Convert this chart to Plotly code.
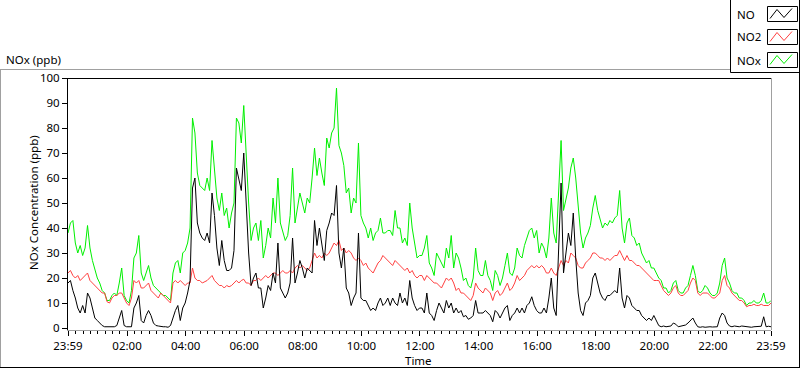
import pandas as pd
import plotly.graph_objects as go

# ---------------- data (5-minute samples, 23:59 -> 23:59) ----------------
start_time = "2000-01-01 23:59"
n_samples = 289
times = pd.date_range(start_time, periods=n_samples, freq="5min")

no_ppb = [
    18, 19, 15, 12, 8, 6, 9, 6, 14, 12, 8, 4, 3, 2, 1, 0.5, 0.5, 0.5, 0.5, 0.5, 1, 4, 7, 1, 0.5,
    0.5, 0.5, 8, 10, 13, 3, 2, 5, 7, 5, 2, 1, 0.8, 0.5, 0.5, 0.5, 0.3, 1, 4, 7, 9, 3, 8, 10,
    14, 19, 56, 60, 42, 38, 36, 35, 38, 34, 54, 45, 32, 25, 35, 27, 23, 23, 24, 31, 64, 60, 55, 70,
    50, 30, 17, 20, 22, 16, 16, 8, 12, 17, 15, 22, 18, 34, 16, 14, 12, 14, 18, 36, 18, 22, 27, 24,
    20, 24, 23, 22, 43, 33, 40, 34, 27, 39, 42, 46, 45, 57, 30, 24, 32, 16, 14, 9, 12, 14, 38, 12,
    11, 11, 9, 7, 8, 7, 10, 12, 9, 10, 12, 9, 12, 10, 9, 14, 10, 12, 9, 19, 12, 9, 7, 8,
    8, 6, 14, 6, 5, 3, 7, 10, 8, 6, 11, 8, 10, 6, 8, 6, 7, 4.5, 5, 3.5, 4, 5, 11, 6,
    6, 6, 7, 6, 5, 2.5, 7, 6, 4, 6, 8, 9, 3, 5, 6, 8, 6, 8, 6, 9, 10, 12.5, 9, 7,
    6, 6, 8, 6, 12, 20, 8, 5, 32, 58, 22, 30, 38, 33, 46, 28, 14, 7, 5, 10, 11, 13, 20, 22,
    18, 14, 12, 11, 13, 13, 14, 15, 14, 24, 12, 8, 13, 12, 9, 8, 7, 7, 5, 4, 3, 4, 3, 5,
    3, 1, 0.5, 0.8, 0.5, 0.5, 0.8, 2, 1.5, 0.5, 0.8, 1, 1.2, 2, 3, 4, 2, 0.5, 0.3, 0.5, 0.3, 0.5, 0.5, 0.4,
    0.3, 0.5, 4, 6, 5, 2, 0.8, 0.5, 0.8, 0.5, 0.5, 0.8, 0.7, 0.3, 0.5, 0.3, 0.5, 0.5, 0.5, 0.7, 4.5, 0.5, 0.7, 0.5,
]

no2_ppb = [
    22, 23, 21, 20, 21, 19, 20, 21, 22, 19, 18, 17, 16, 15, 14, 14, 10.5, 10, 12, 13, 13, 14, 14, 12, 10,
    9, 12, 19, 18, 19, 16, 16, 17, 18, 15, 14, 13, 12, 14, 13, 12, 11, 10, 18, 19, 18, 19, 18, 17,
    18, 18, 24, 20, 19, 19, 18, 18.5, 19, 20, 21, 19, 18, 17, 17, 16, 17, 16.5, 17, 18, 19, 18, 19, 19.5,
    18, 18, 17, 19, 19, 20, 19, 20, 21, 20, 21, 22, 22, 21, 22, 23, 22, 22, 23, 22, 24, 25, 24, 25,
    24, 23, 24, 27, 30, 28, 29, 28, 30, 29, 30, 32, 34, 33, 35, 31, 32, 30, 31, 30, 28, 27, 28, 27,
    25, 26, 24, 23, 22, 24, 26, 27, 29, 28, 27, 26, 25, 27, 26, 25, 24, 23, 24, 22, 23, 21, 20, 21,
    21, 19, 21, 20, 19, 18, 18, 17, 16, 18, 20, 19, 20, 18, 15, 16, 14, 14, 13, 12, 11, 13, 18, 16,
    15, 14, 16, 15, 14, 11, 14, 15, 13, 14, 16, 18, 15, 16, 18, 21, 19, 20, 21, 23, 24, 25, 24, 25,
    24, 25, 24, 22, 22, 24, 22, 21, 24, 27, 25, 27, 26, 30, 29, 28, 25, 24, 24, 26, 27, 28, 30, 30,
    29, 28, 28, 27, 28, 27, 28, 29, 29, 31, 29, 27, 29, 27, 27, 26, 25, 25, 24, 23, 22, 21, 20, 19,
    19, 19, 17, 15, 14, 13, 14, 16, 17, 14, 13, 13, 14, 15, 18, 20, 19, 14, 13, 14, 14, 14, 13, 12,
    12, 13, 14, 19, 21, 17, 16, 14, 13, 12, 11, 11, 10, 8.5, 9, 9, 9.5, 9, 9, 9.5, 9, 9, 9, 10,
]

nox_ppb = [
    38, 42, 43, 34, 30, 33, 29, 32, 41, 32, 27, 23, 20, 18, 15, 14, 11, 11, 13, 14, 13, 18, 24, 13, 11,
    10, 15, 28, 30, 37, 22, 19, 22, 25, 20, 17, 16, 15, 14, 13, 13, 12, 11, 22, 26, 27, 22, 30, 31,
    34, 40, 84, 78, 62, 57, 56, 55, 60, 55, 75, 64, 52, 47, 54, 45, 48, 40, 46, 50, 84, 82, 74, 89,
    68, 50, 35, 40, 42, 35, 43, 28, 33, 40, 36, 52, 42, 60, 42, 38, 35, 37, 45, 64, 42, 48, 54, 50,
    46, 52, 50, 60, 72, 61, 68, 62, 57, 76, 72, 78, 80, 96, 73, 70, 65, 54, 56, 46, 52, 50, 74, 45,
    42, 40, 36, 40, 35, 38, 39, 44, 38, 38, 39, 39, 37, 47, 40, 40, 34, 36, 33, 50, 40, 34, 28, 29,
    29, 32, 37, 26, 24, 21, 30, 28, 26, 24, 32, 28, 37, 24, 30, 28, 24, 19, 20, 17, 16, 20, 32, 23,
    21, 21, 27, 21, 19, 15, 23, 21, 17, 20, 25, 30, 22, 21, 24, 32, 29, 28, 33, 36, 39, 40, 36, 39,
    30, 34, 32, 28, 36, 52, 38, 34, 55, 75, 47, 52, 56, 64, 68, 60, 48, 38, 32, 36, 38, 41, 48, 53,
    47, 43, 40, 42, 41, 43, 42, 44, 45, 55, 40, 34, 42, 44, 37, 36, 33, 34, 30, 28, 26, 27, 24, 24,
    22, 20, 19, 16, 16, 14, 15, 18, 19, 15, 14, 14, 16, 17, 21, 25, 21, 15, 14, 15, 17, 16, 14, 13,
    13, 14, 18, 25, 28, 20, 18, 15, 14, 14, 12, 12, 11, 9, 10, 10, 11, 10, 10, 11, 14, 10, 10, 11,
]

series_names = ["NO", "NO2", "NOx"]
series_colors = ["#000000", "#ff4040", "#00f000"]

tick_times = ["2000-01-01 23:59", "2000-01-02 02:00", "2000-01-02 04:00", "2000-01-02 06:00",
              "2000-01-02 08:00", "2000-01-02 10:00", "2000-01-02 12:00", "2000-01-02 14:00",
              "2000-01-02 16:00", "2000-01-02 18:00", "2000-01-02 20:00", "2000-01-02 22:00",
              "2000-01-02 23:59"]
tick_labels = ["23:59", "02:00", "04:00", "06:00", "08:00", "10:00", "12:00", "14:00",
               "16:00", "18:00", "20:00", "22:00", "23:59"]
y_ticks = [0, 10, 20, 30, 40, 50, 60, 70, 80, 90, 100]

# ---------------- geometry helpers (pixel -> paper) ----------------
W, H = 800, 369
L, R, T, B = 68, 29, 78, 39
PW, PH = W - L - R, H - T - B


def fx(px):
    return (px - L) / PW


def fy(py):
    return (H - B - py) / PH


FONT = "Noto Sans"
FS = 11.5
TXT = "#000000"

fig = go.Figure()
series_data = [no_ppb, no2_ppb, nox_ppb]
for idx in [2, 1, 0]:
    fig.add_trace(go.Scatter(x=times, y=series_data[idx], mode="lines", name=series_names[idx],
                             line=dict(color=series_colors[idx], width=1), showlegend=False,
                             hoverinfo="x+y"))

shapes = []


def hline(x0, x1, y, color):
    shapes.append(dict(type="line", xref="paper", yref="paper", x0=fx(x0), x1=fx(x1),
                       y0=fy(y), y1=fy(y), line=dict(color=color, width=1)))


def vline(x, y0, y1, color):
    shapes.append(dict(type="line", xref="paper", yref="paper", x0=fx(x), x1=fx(x),
                       y0=fy(y0), y1=fy(y1), line=dict(color=color, width=1)))


# outer 3D frame
hline(0, 730.5, 69.5, "#a0a0a0")
vline(0.5, 69.5, 368, "#a0a0a0")
hline(0, 799.5, 367.5, "#000000")
vline(799.5, 0, 368, "#000000")
# legend box
vline(730.5, 0, 72.5, "#000000")
hline(730.5, 799.5, 72.5, "#000000")
# plot-area frame: top and left dark, right light
hline(L, L + PW, T + 0.5, "#000000")
vline(L + PW + 0.5, T, H - B, "#a0a0a0")

annotations = []
legend_rows = [14, 37, 60]
for i, name in enumerate(series_names):
    cy = legend_rows[i]
    annotations.append(dict(text=name, xref="paper", yref="paper", x=fx(735), y=fy(cy),
                            xanchor="left", yanchor="middle", showarrow=False,
                            font=dict(family=FONT, size=FS, color=TXT)))
    top = cy - 7.5
    shapes.append(dict(type="rect", xref="paper", yref="paper", x0=fx(767.5), x1=fx(797.5),
                       y0=fy(top), y1=fy(top + 15), line=dict(color="#000000", width=1),
                       fillcolor="white"))
    pts = [(770, top + 12), (777, top + 3), (784, top + 11), (792, top + 2)]
    path = "M " + " L ".join(f"{fx(px)},{fy(py)}" for px, py in pts)
    shapes.append(dict(type="path", xref="paper", yref="paper", path=path,
                       line=dict(color=series_colors[i], width=1)))

annotations.append(dict(text="NOx (ppb)", xref="paper", yref="paper", x=fx(4), y=fy(59),
                        xanchor="left", yanchor="middle", showarrow=False,
                        font=dict(family=FONT, size=FS, color=TXT)))
annotations.append(dict(text="Time", xref="paper", yref="paper", x=fx(418), y=fy(360),
                        xanchor="center", yanchor="middle", showarrow=False,
                        font=dict(family=FONT, size=FS, color=TXT)))
annotations.append(dict(text="NOx Concentration (ppb)", xref="paper", yref="paper", x=fx(33),
                        y=fy(203), xanchor="center", yanchor="middle", textangle=-90,
                        showarrow=False, font=dict(family=FONT, size=FS, color=TXT)))

fig.update_layout(
    width=W, height=H,
    margin=dict(l=L, r=R, t=T, b=B, pad=0),
    paper_bgcolor="white", plot_bgcolor="white",
    font=dict(family=FONT, size=FS, color=TXT),
    shapes=shapes, annotations=annotations,
    xaxis=dict(range=[tick_times[0], tick_times[-1]], tickmode="array", tickvals=tick_times,
               ticktext=tick_labels, ticks="outside", ticklen=5, tickcolor="#000000",
               showline=True, linecolor="#a0a0a0", linewidth=1, showgrid=False, zeroline=False,
               automargin=False, tickfont=dict(family=FONT, size=FS, color=TXT),
               minor=dict(tickmode="linear", tick0="2000-01-02 00:00", dtick=900000,
                          ticks="outside", ticklen=3, tickcolor="#000000", showgrid=False)),
    yaxis=dict(range=[-0.8, 100], tickmode="array", tickvals=y_ticks, ticks="outside",
               ticklen=5, tickcolor="#000000", showline=True, linecolor="#000000", linewidth=1,
               automargin=False, showgrid=False, zeroline=False,
               tickfont=dict(family=FONT, size=FS, color=TXT)),
)

fig.write_html("out.html", config={"displayModeBar": False},
               post_script="document.body.style.margin='0';document.body.style.overflow='hidden';")
